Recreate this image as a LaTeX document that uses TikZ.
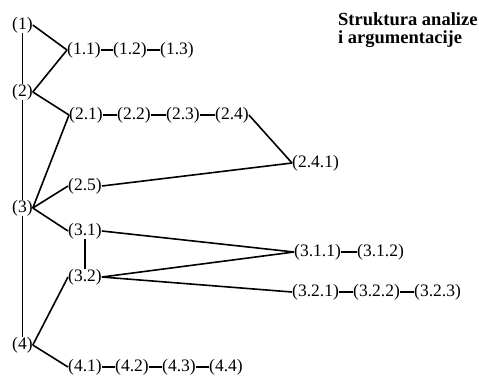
\documentclass[tikz,border=0pt]{standalone}
\usepackage{fontspec}
\setmainfont{Liberation Serif}
\begin{document}
\begin{tikzpicture}[x=1pt,y=-1pt,
  lab/.style={inner sep=0pt,anchor=west,font=\fontsize{17.5}{19}\selectfont},
  conn/.style={line width=1.6pt}]
\useasboundingbox (0,0) rectangle (479,376);
% left column
\node[lab] (n1) at (12,25) {(1)};
\node[lab] (n2) at (12,92) {(2)};
\node[lab] (n3) at (12,208) {(3)};
\node[lab] (n4) at (12,345) {(4)};
% row 1
\node[lab] (n11) at (67,50) {(1.1)};
\node[lab] (n12) at (113,50) {(1.2)};
\node[lab] (n13) at (160,50) {(1.3)};
% row 2
\node[lab] (n21) at (69,115) {(2.1)};
\node[lab] (n22) at (117,115) {(2.2)};
\node[lab] (n23) at (166,115) {(2.3)};
\node[lab] (n24) at (215,115) {(2.4)};
\node[lab] (n241) at (292,163) {(2.4.1)};
\node[lab] (n25) at (68,186) {(2.5)};
% row 3
\node[lab] (n31) at (68,231) {(3.1)};
\node[lab] (n32) at (68,277) {(3.2)};
\node[lab] (n311) at (294,252) {(3.1.1)};
\node[lab] (n312) at (357,252) {(3.1.2)};
\node[lab] (n321) at (292,292) {(3.2.1)};
\node[lab] (n322) at (353,292) {(3.2.2)};
\node[lab] (n323) at (414,292) {(3.2.3)};
% row 4
\node[lab] (n41) at (68,367) {(4.1)};
\node[lab] (n42) at (115,367) {(4.2)};
\node[lab] (n43) at (162,367) {(4.3)};
\node[lab] (n44) at (209,367) {(4.4)};
% title
\node[inner sep=0pt,anchor=north west,align=left,font=\fontsize{18.5}{18}\selectfont\bfseries] (title) at (338,12) {Struktura analize\\i argumentacije};
% connectors
\draw[conn] (n1.south) -- (n2.north);
\draw[conn] (n2.south) -- (n3.north);
\draw[conn] (n3.south) -- (n4.north);
\draw[conn] (n1.east) -- (n11.west);
\draw[conn] (n2.east) -- (n11.west);
\draw[conn] (n2.east) -- (n21.west);
\draw[conn] (n3.east) -- (n21.west);
\draw[conn] (n3.east) -- (n25.west);
\draw[conn] (n3.east) -- (n31.west);
\draw[conn] (n4.east) -- (n32.west);
\draw[conn] (n4.east) -- (n41.west);
\draw[conn] (n11.east) -- (n12.west);
\draw[conn] (n12.east) -- (n13.west);
\draw[conn] (n21.east) -- (n22.west);
\draw[conn] (n22.east) -- (n23.west);
\draw[conn] (n23.east) -- (n24.west);
\draw[conn] (n24.east) -- (n241.west);
\draw[conn] (n25.east) -- (n241.west);
\draw[conn] (n31.south) -- (n32.north);
\draw[conn] (n31.east) -- (n311.west);
\draw[conn] (n32.east) -- (n311.west);
\draw[conn] (n32.east) -- (n321.west);
\draw[conn] (n311.east) -- (n312.west);
\draw[conn] (n321.east) -- (n322.west);
\draw[conn] (n322.east) -- (n323.west);
\draw[conn] (n41.east) -- (n42.west);
\draw[conn] (n42.east) -- (n43.west);
\draw[conn] (n43.east) -- (n44.west);
\end{tikzpicture}
\end{document}
